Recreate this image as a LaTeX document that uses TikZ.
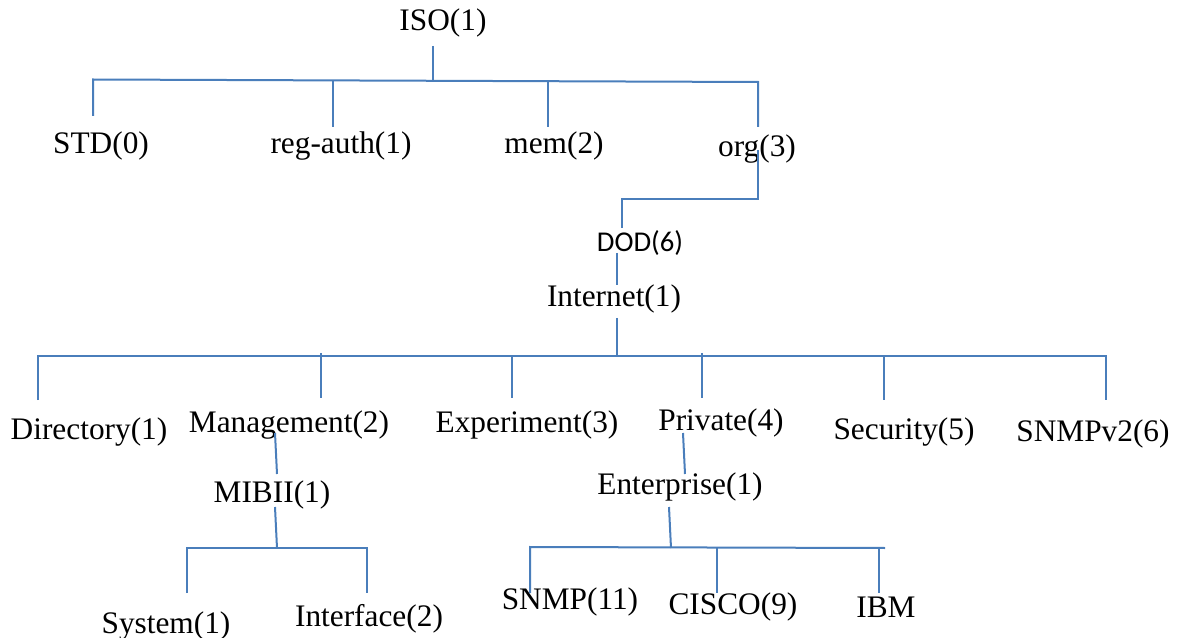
\documentclass[tikz,border=0pt]{standalone}
\usepackage{fontspec}
\setmainfont{Liberation Serif}
\newfontfamily\dodfont{Carlito}
\definecolor{linkblue}{HTML}{4A7EBB}
\begin{document}
\begin{tikzpicture}[x=0.75pt,y=-0.75pt,
  lbl/.style={inner sep=0pt,anchor=base,font=\fontsize{23.5}{28}\selectfont},
  sanslbl/.style={inner sep=0pt,anchor=base,font=\dodfont\fontsize{21.5}{26}\selectfont},
  link/.style={draw=linkblue,line width=1.5pt}]
\useasboundingbox (0,0) rectangle (1183,638);
% labels
\node[lbl] (iso) at (443,31) {ISO(1)};
\node[lbl] (std) at (101,154) {STD(0)};
\node[lbl] (reg) at (341,154) {reg-auth(1)};
\node[lbl] (mem) at (554,154) {mem(2)};
\node[lbl] (org) at (757,157) {org(3)};
\node[sanslbl] (dod) at (640,252) {DOD(6)};
\node[lbl] (inet) at (614,306) {Internet(1)};
\node[lbl] (dir) at (89,439) {Directory(1)};
\node[lbl] (mgmt) at (289,432) {Management(2)};
\node[lbl] (exp) at (527,432) {Experiment(3)};
\node[lbl] (priv) at (721,431) {Private(4)};
\node[lbl] (sec) at (904,439) {Security(5)};
\node[lbl] (snmpv2) at (1093,441) {SNMPv2(6)};
\node[lbl] (mib) at (272,502) {MIBII(1)};
\node[lbl] (ent) at (680,494) {Enterprise(1)};
\node[lbl] (sys) at (166,633) {System(1)};
\node[lbl] (intf) at (369,626) {Interface(2)};
\node[lbl] (snmp) at (570,609) {SNMP(11)};
\node[lbl] (cisco) at (733,614) {CISCO(9)};
\node[lbl] (ibm) at (886,617) {IBM};
% junction coordinates
\coordinate (isoB) at (433,46);
\coordinate (isoJ) at (433,80.5);
\coordinate (h1L) at (93,79.5);
\coordinate (h1R) at (758,82);
\coordinate (stdT) at (93,116);
\coordinate (regJ) at (333,81);
\coordinate (regT) at (333,127);
\coordinate (memJ) at (548,81.5);
\coordinate (memT) at (548,127);
\coordinate (orgT) at (758,127);
\coordinate (orgB) at (758,150);
\coordinate (orgK) at (758,199);
\coordinate (dodK) at (622,199);
\coordinate (dodT) at (622,228);
\coordinate (dodB) at (617,253);
\coordinate (inetT) at (617,285);
\coordinate (inetB) at (617,318);
\coordinate (inetJ) at (617,356);
\coordinate (h2L) at (38,356);
\coordinate (h2R) at (1106,356);
\coordinate (dirT) at (38,400);
\coordinate (mgmtJ) at (321,353);
\coordinate (mgmtT) at (321,398);
\coordinate (expJ) at (512,356);
\coordinate (expT) at (512,398);
\coordinate (privJ) at (702,353);
\coordinate (privT) at (702,398);
\coordinate (secJ) at (884,356);
\coordinate (secT) at (884,400);
\coordinate (snmpvT) at (1106,400);
\coordinate (mgmtB) at (275,433);
\coordinate (mibT) at (277,474);
\coordinate (mibB) at (275,507);
\coordinate (mibJ) at (277,548);
\coordinate (h3L) at (187,548);
\coordinate (h3R) at (367,548);
\coordinate (sysT) at (187,593);
\coordinate (intfT) at (367,593);
\coordinate (privB) at (683,433);
\coordinate (entT) at (685,474);
\coordinate (entB) at (669,507);
\coordinate (entJ) at (671,548);
\coordinate (h4L) at (530,547);
\coordinate (h4R) at (885,548);
\coordinate (snmpT) at (530,593);
\coordinate (ciscoJ) at (717,547.5);
\coordinate (ciscoT) at (717,593);
\coordinate (ibmJ) at (879,548);
\coordinate (ibmT) at (879,593);
% connectors
\draw[link] (isoB) -- (isoJ);
\draw[link] (stdT) -- (h1L) -- (h1R) -- (orgT);
\draw[link] (regJ) -- (regT);
\draw[link] (memJ) -- (memT);
\draw[link] (orgB) -- (orgK) -- (dodK) -- (dodT);
\draw[link] (dodB) -- (inetT);
\draw[link] (inetB) -- (inetJ);
\draw[link] (dirT) -- (h2L) -- (h2R) -- (snmpvT);
\draw[link] (mgmtJ) -- (mgmtT);
\draw[link] (expJ) -- (expT);
\draw[link] (privJ) -- (privT);
\draw[link] (secJ) -- (secT);
\draw[link] (mgmtB) -- (mibT);
\draw[link] (mibB) -- (mibJ);
\draw[link] (sysT) -- (h3L) -- (h3R) -- (intfT);
\draw[link] (privB) -- (entT);
\draw[link] (entB) -- (entJ);
\draw[link] (snmpT) -- (h4L) -- (h4R);
\draw[link] (ciscoJ) -- (ciscoT);
\draw[link] (ibmJ) -- (ibmT);
\end{tikzpicture}
\end{document}
